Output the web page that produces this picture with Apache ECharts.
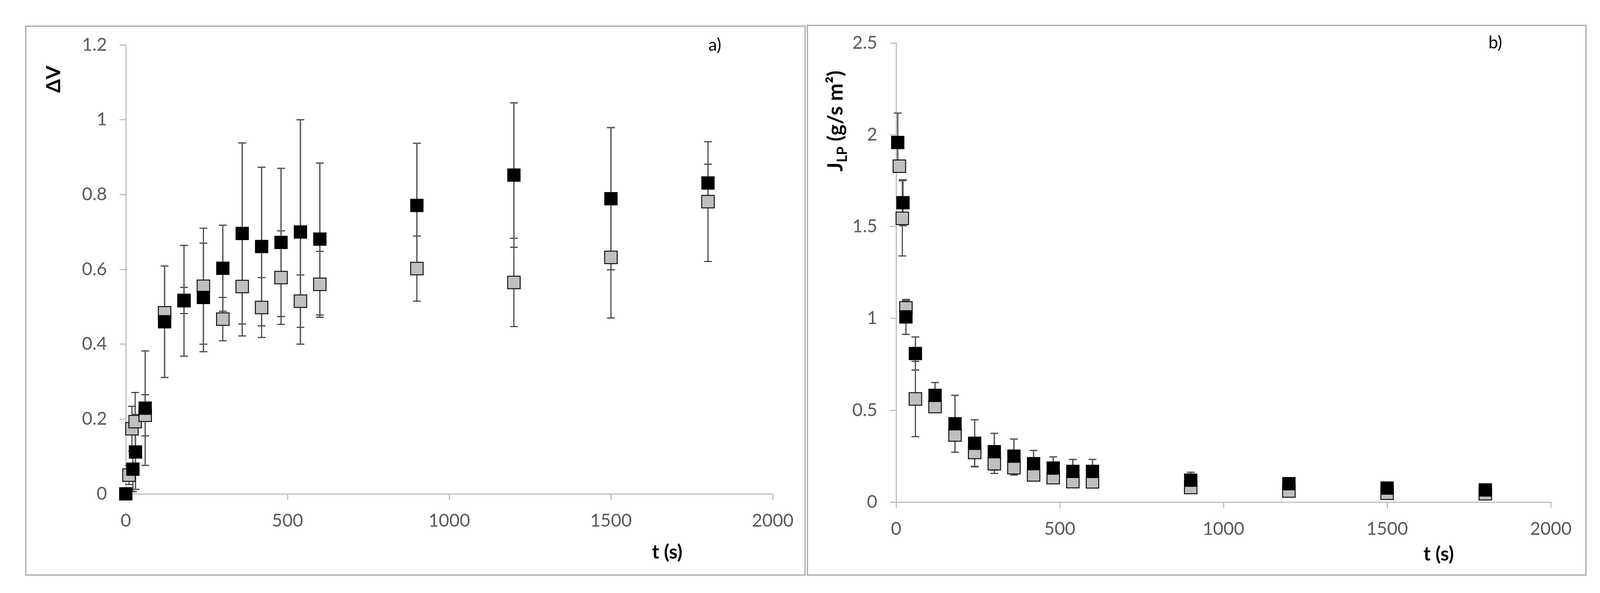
<!DOCTYPE html>
<html>
<head>
<meta charset="utf-8">
<style>
  html, body { margin: 0; padding: 0; background: #ffffff; }
  #chart { width: 4114px; height: 1519px; }
</style>
<script src="https://cdn.jsdelivr.net/npm/echarts@6/dist/echarts.min.js"></script>
</head>
<body>
<div id="chart"></div>
<script>
// ---------- Data ----------
// Panel a) ΔV vs t
const aBlackT = [0, 22, 30, 60, 120, 180, 240, 300, 360, 420, 480, 540, 600, 900, 1200, 1500, 1800];
const aBlackV = [0, 0.066, 0.112, 0.229, 0.460, 0.516, 0.525, 0.603, 0.696, 0.661, 0.672, 0.700, 0.681, 0.771, 0.852, 0.789, 0.831];
const aBlackE = [0, 0.06, 0.10, 0.153, 0.149, 0.148, 0.145, 0.115, 0.242, 0.212, 0.198, 0.300, 0.203, 0.166, 0.193, 0.190, 0.050];
const aGrayT  = [10, 19, 29, 60, 120, 180, 240, 300, 360, 420, 480, 540, 600, 900, 1200, 1500, 1800];
const aGrayV  = [0.050, 0.174, 0.193, 0.210, 0.484, 0.517, 0.555, 0.467, 0.554, 0.498, 0.578, 0.515, 0.560, 0.602, 0.565, 0.632, 0.781];
const aGrayE  = [0.025, 0.060, 0.078, 0.055, 0.010, 0.035, 0.155, 0.058, 0.132, 0.080, 0.125, 0.070, 0.088, 0.087, 0.118, 0.162, 0.160];

// Panel b) J_LP vs t
const bBlackT = [5, 21, 30, 59, 119, 180, 240, 300, 360, 420, 480, 540, 600, 900, 1200, 1500, 1800];
const bBlackV = [1.958, 1.630, 1.008, 0.809, 0.581, 0.426, 0.320, 0.274, 0.250, 0.209, 0.185, 0.167, 0.167, 0.119, 0.100, 0.076, 0.066];
const bBlackE = [0.160, 0.125, 0.095, 0.090, 0.070, 0.155, 0.128, 0.100, 0.093, 0.072, 0.061, 0.065, 0.065, 0.043, 0.025, 0.020, 0.015];
const bGrayT  = [10, 19, 30, 59, 119, 180, 240, 300, 360, 420, 480, 540, 600, 900, 1200, 1500, 1800];
const bGrayV  = [1.829, 1.545, 1.057, 0.561, 0.520, 0.365, 0.270, 0.209, 0.187, 0.148, 0.133, 0.111, 0.110, 0.079, 0.060, 0.048, 0.045];
const bGrayE  = [0.030, 0.205, 0.040, 0.205, 0.020, 0.030, 0.075, 0.053, 0.040, 0.020, 0.020, 0.020, 0.020, 0.015, 0.010, 0.010, 0.010];

// Axis ranges / ticks
const xTicks = [0, 500, 1000, 1500, 2000];
const aYTicks = [0, 0.2, 0.4, 0.6, 0.8, 1, 1.2];
const bYTicks = [0, 0.5, 1, 1.5, 2, 2.5];

const FONT = 'Lato, "Open Sans", sans-serif';

function zip3(t, v, e) { return t.map((x, i) => [x, v[i], e[i]]); }
function zip2(t, v) { return t.map((x, i) => [x, v[i]]); }
function plain(v) { return String(Math.round(v * 1000) / 1000); }

function errBars(idx, data, color, width, z) {
  return {
    type: 'custom',
    xAxisIndex: idx, yAxisIndex: idx,
    z: z, silent: true, clip: false,
    data: data,
    encode: { x: 0, y: 1 },
    renderItem: function (params, api) {
      const x = api.value(0), y = api.value(1), e = api.value(2);
      if (!e) return null;
      const top = api.coord([x, y + e]);
      const bot = api.coord([x, y - e]);
      const cw = 10;
      const st = { stroke: color, lineWidth: width };
      return {
        type: 'group',
        children: [
          { type: 'line', shape: { x1: top[0], y1: top[1], x2: bot[0], y2: bot[1] }, style: st },
          { type: 'line', shape: { x1: top[0] - cw, y1: top[1], x2: top[0] + cw, y2: top[1] }, style: st },
          { type: 'line', shape: { x1: bot[0] - cw, y1: bot[1], x2: bot[0] + cw, y2: bot[1] }, style: st }
        ]
      };
    }
  };
}

function markers(idx, data, fill, border, bw, z) {
  return {
    type: 'scatter',
    xAxisIndex: idx, yAxisIndex: idx,
    z: z, silent: true,
    symbol: 'rect', symbolSize: 32,
    data: data,
    itemStyle: { color: fill, borderColor: border, borderWidth: bw, opacity: 1 }
  };
}

const axisLineStyle = { color: '#bfbfbf', width: 3 };
const labelStyle = { color: '#595959', fontSize: 46, fontFamily: FONT, formatter: plain };

function xAxis(idx) {
  return {
    type: 'value', gridIndex: idx, min: xTicks[0], max: xTicks[xTicks.length - 1], interval: 500,
    axisLine: { show: true, lineStyle: axisLineStyle },
    axisTick: { show: true, inside: false, length: 16, lineStyle: axisLineStyle },
    axisLabel: Object.assign({ margin: 46 }, labelStyle),
    splitLine: { show: false }
  };
}
function yAxis(idx, ticks, interval) {
  return {
    type: 'value', gridIndex: idx, min: ticks[0], max: ticks[ticks.length - 1], interval: interval,
    axisLine: { show: true, lineStyle: axisLineStyle },
    axisTick: { show: true, inside: false, length: 16, lineStyle: axisLineStyle },
    axisLabel: Object.assign({ margin: 48 }, labelStyle),
    splitLine: { show: false }
  };
}

const chart = echarts.init(document.getElementById('chart'), null, { renderer: 'canvas' });

const option = {
  animation: false,
  backgroundColor: '#ffffff',
  grid: [
    { left: 322, top: 115, width: 1656, height: 1150 },
    { left: 2294, top: 110, width: 1676, height: 1176 }
  ],
  xAxis: [xAxis(0), xAxis(1)],
  yAxis: [yAxis(0, aYTicks, 0.2), yAxis(1, bYTicks, 0.5)],
  graphic: [
    { type: 'rect', shape: { x: 66, y: 67, width: 1995, height: 1406 }, style: { fill: 'none', stroke: '#a6a6a6', lineWidth: 3 }, z: -1 },
    { type: 'rect', shape: { x: 2067, y: 65, width: 1993, height: 1408 }, style: { fill: 'none', stroke: '#a6a6a6', lineWidth: 3 }, z: -1 },
    { type: 'text', x: 138, y: 203, rotation: Math.PI / 2,
      style: { text: 'ΔV', fill: '#000', font: 'bold 50px ' + FONT, textAlign: 'center', textVerticalAlign: 'middle' } },
    { type: 'text', x: 2140, y: 310, rotation: Math.PI / 2,
      style: {
        text: '{b|J}{s|LP}{b| (g/s m²)}',
        textAlign: 'center', textVerticalAlign: 'middle', fill: '#000',
        rich: {
          b: { fontSize: 54, fontWeight: 'bold', fontFamily: FONT, lineHeight: 68, fill: '#000' },
          s: { fontSize: 36, fontWeight: 'bold', fontFamily: FONT, lineHeight: 36, verticalAlign: 'bottom', fill: '#000' }
        }
      } },
    { type: 'text', x: 1708, y: 1415,
      style: { text: 't (s)', fill: '#000', font: 'bold 50px ' + FONT, textAlign: 'center', textVerticalAlign: 'middle' } },
    { type: 'text', x: 3683, y: 1420,
      style: { text: 't (s)', fill: '#000', font: 'bold 50px ' + FONT, textAlign: 'center', textVerticalAlign: 'middle' } },
    { type: 'text', x: 1830, y: 116,
      style: { text: 'a)', fill: '#000', font: '44px ' + FONT, textAlign: 'center', textVerticalAlign: 'middle' } },
    { type: 'text', x: 3828, y: 110,
      style: { text: 'b)', fill: '#000', font: '44px ' + FONT, textAlign: 'center', textVerticalAlign: 'middle' } }
  ],
  series: [
    errBars(0, zip3(aGrayT, aGrayV, aGrayE), '#2e2e2e', 2.5, 2),
    errBars(0, zip3(aBlackT, aBlackV, aBlackE), '#595959', 3.5, 2),
    markers(0, zip2(aGrayT, aGrayV), '#bfbfbf', '#111111', 2.5, 3),
    markers(0, zip2(aBlackT, aBlackV), '#000000', '#000000', 2, 4),
    errBars(1, zip3(bGrayT, bGrayV, bGrayE), '#2e2e2e', 2.5, 2),
    errBars(1, zip3(bBlackT, bBlackV, bBlackE), '#595959', 3.5, 2),
    markers(1, zip2(bGrayT, bGrayV), '#bfbfbf', '#111111', 2.5, 3),
    markers(1, zip2(bBlackT, bBlackV), '#000000', '#000000', 2, 4)
  ]
};
chart.setOption(option);
</script>
</body>
</html>
